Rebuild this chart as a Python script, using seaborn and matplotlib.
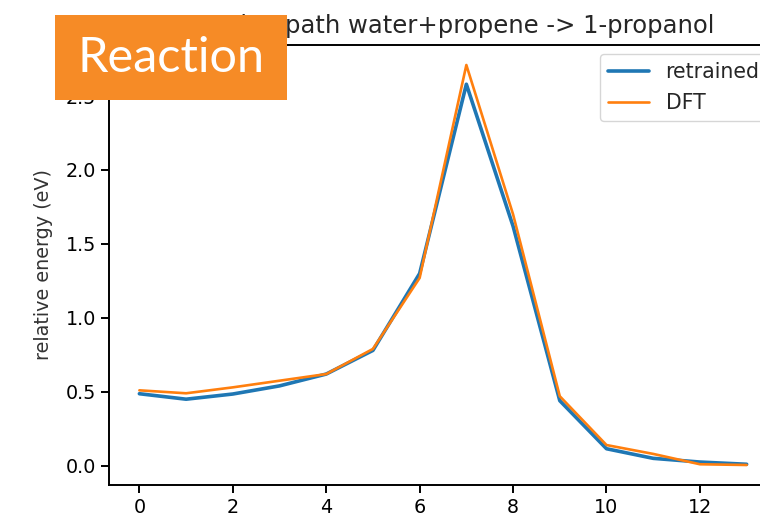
import matplotlib
matplotlib.use("Agg")
import matplotlib.pyplot as plt
from matplotlib.patches import Rectangle
import numpy as np
import pandas as pd
import seaborn as sns

# Images along the reaction path
images = list(range(14))

# Relative energies (eV) along the path
retrained = [0.487, 0.45, 0.485, 0.54, 0.62, 0.78, 1.30, 2.58, 1.62, 0.44, 0.115, 0.05, 0.025, 0.01]
dft = [0.51, 0.49, 0.53, 0.575, 0.62, 0.79, 1.27, 2.71, 1.70, 0.47, 0.14, 0.08, 0.01, 0.005]

xticks = [0, 2, 4, 6, 8, 10, 12]
yticks = [0.0, 0.5, 1.0, 1.5, 2.0, 2.5]

title = "Reaction path water+propene -> 1-propanol"
ylabel = "relative energy (eV)"
badge = "Reaction"

df = pd.DataFrame({"image": images, "retrained": retrained, "DFT": dft})

sns.set_theme(style="ticks")
plt.rcParams["font.family"] = ["DejaVu Sans"]

fs = 13.8
fig = plt.figure(figsize=(7.6, 5.2), dpi=100)
ax = fig.add_axes([109 / 760, 35 / 520, 668 / 760, 440 / 520])

sns.lineplot(data=df, x="image", y="retrained", ax=ax, color="#1f77b4",
             linewidth=2.6, label="retrained")
sns.lineplot(data=df, x="image", y="DFT", ax=ax, color="#ff7f0e",
             linewidth=1.9, label="DFT")

ax.set_xticks(xticks)
ax.set_yticks(yticks)
ax.set_yticklabels([f"{v:.1f}" for v in yticks])
ax.set_xlabel("")
ax.set_ylabel(ylabel, fontsize=fs, labelpad=9, color="#333333")
ax.set_title(title, fontsize=17.5, pad=9)
ax.tick_params(labelsize=fs, length=6, width=1.4, colors="black")
for s in ax.spines.values():
    s.set_linewidth(1.4)
    s.set_color("black")

ax.legend(loc="upper right", fontsize=14.8, frameon=True, borderaxespad=0.45)

# Orange badge in the top-left corner
fig.add_artist(Rectangle((55 / 760, 1 - 100 / 520), 232 / 760, 85 / 520,
                         transform=fig.transFigure, facecolor="#F68B26",
                         edgecolor="none", zorder=10))
fig.text(171 / 760, 1 - 58 / 520, badge, family="Lato", fontsize=35,
         color="white", ha="center", va="center", zorder=11)

fig.savefig("out.png", dpi=100)
